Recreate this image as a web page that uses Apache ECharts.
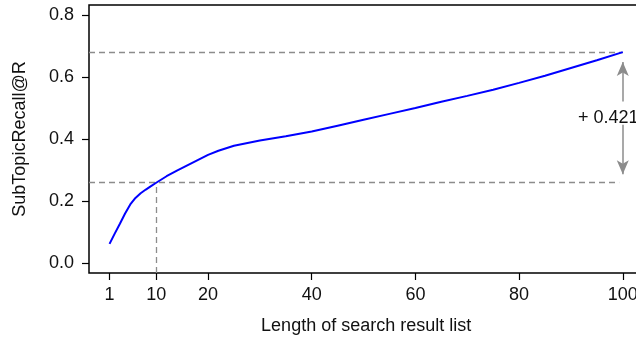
<!DOCTYPE html>
<html>
<head>
<meta charset="utf-8">
<script src="https://cdn.jsdelivr.net/npm/echarts@6/dist/echarts.min.js"></script>
<style>
  html, body { margin: 0; padding: 0; background: #fff; overflow: hidden; width: 636px; height: 340px; }
  #chart { width: 650px; height: 340px; }
</style>
</head>
<body>
<div id="chart"></div>
<script>
// Data
const lengths = [1, 2, 3, 4, 5, 6, 7, 8, 9, 10, 12, 14, 16, 18, 20, 22, 25, 30, 35, 40, 45, 50, 55, 60, 65, 70, 75, 80, 85, 90, 95, 100];
const recall  = [0.062, 0.095, 0.127, 0.160, 0.189, 0.210, 0.225, 0.237, 0.248, 0.259, 0.280, 0.298, 0.315, 0.332, 0.349, 0.362, 0.378, 0.395, 0.409, 0.424, 0.443, 0.462, 0.481, 0.500, 0.520, 0.539, 0.559, 0.581, 0.604, 0.629, 0.654, 0.680];
const xTicks = [1, 10, 20, 40, 60, 80, 100];
const yTicks = [0, 0.2, 0.4, 0.6, 0.8];
const refLength = 10;
const fullLength = 100;

const xMin = -2.96, xMax = 103.96;
const yMin = -0.032, yMax = 0.832;

const lowVal = recall[lengths.indexOf(refLength)];
const highVal = recall[lengths.indexOf(fullLength)];
const gain = highVal - lowVal;

const FONT = "'Liberation Sans', Arial, Helvetica, sans-serif";
const dashStyle = { type: [6, 4], color: '#8c8c8c', width: 1.3 };
const arrowStyle = { type: 'solid', color: '#8c8c8c', width: 1.5 };

const chart = echarts.init(document.getElementById('chart'), null, { renderer: 'canvas', width: 650, height: 340 });
chart.setOption({
  animation: false,
  backgroundColor: '#ffffff',
  grid: {
    left: 89, top: 5, right: 6.7, bottom: 67,
    show: true, borderColor: '#000', borderWidth: 1.5,
    containLabel: false
  },
  xAxis: {
    type: 'value', min: xMin, max: xMax,
    name: 'Length of search result list',
    nameLocation: 'middle', nameGap: 44,
    nameTextStyle: { fontFamily: FONT, fontSize: 18, color: '#111' },
    axisLine: { show: false, onZero: false },
    splitLine: { show: false },
    axisTick: { show: true, length: 7, customValues: xTicks, lineStyle: { color: '#000', width: 1.2 } },
    axisLabel: { customValues: xTicks, fontFamily: FONT, fontSize: 18, color: '#111', margin: 13 }
  },
  yAxis: {
    type: 'value', min: yMin, max: yMax,
    name: 'SubTopicRecall@R',
    nameLocation: 'middle', nameGap: 60, nameRotate: 90,
    nameTextStyle: { fontFamily: FONT, fontSize: 18, color: '#111' },
    axisLine: { show: false, onZero: false },
    splitLine: { show: false },
    axisTick: { show: true, length: 7, customValues: yTicks, lineStyle: { color: '#000', width: 1.2 } },
    axisLabel: { customValues: yTicks, fontFamily: FONT, fontSize: 18, color: '#111', margin: 15,
      formatter: v => v.toFixed(1) }
  },
  series: [{
    type: 'line',
    data: lengths.map((x, i) => [x, recall[i]]),
    symbol: 'none',
    lineStyle: { color: '#0000ff', width: 2 },
    z: 3,
    markLine: {
      silent: true,
      symbol: ['none', 'none'],
      label: { show: false },
      z: 2,
      data: [
        [{ coord: [xMin, highVal], lineStyle: dashStyle }, { coord: [fullLength, highVal] }],
        [{ coord: [xMin, lowVal], lineStyle: dashStyle }, { coord: [fullLength - 0.7, lowVal] }],
        [{ coord: [refLength, yMin], lineStyle: dashStyle }, { coord: [refLength, lowVal] }],
        [{ coord: [fullLength, 0.521], lineStyle: arrowStyle, symbol: 'none' },
         { coord: [fullLength, 0.648], symbol: 'arrow', symbolSize: [9, 14] }],
        [{ coord: [fullLength, 0.446], lineStyle: arrowStyle, symbol: 'none' },
         { coord: [fullLength, 0.286], symbol: 'arrow', symbolSize: [9, 14] }]
      ]
    },
    markPoint: {
      silent: true,
      data: [{
        coord: [97.2, 0.469],
        symbol: 'circle', symbolSize: 1,
        itemStyle: { color: 'rgba(0,0,0,0)' },
        label: {
          show: true, position: 'inside', formatter: '+ ' + gain.toFixed(3),
          fontFamily: FONT, fontSize: 18, color: '#111'
        }
      }]
    }
  }]
});
</script>
</body>
</html>
